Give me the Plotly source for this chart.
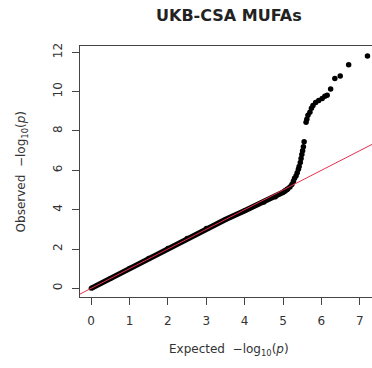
import plotly.graph_objects as go

# Dense body of the QQ curve
body_expected = [0.0, 0.5, 1.0, 1.5, 2.0, 2.5, 3.0, 3.5, 4.0, 4.5, 4.8, 5.0, 5.12]
body_observed = [0.0, 0.5, 1.02, 1.53, 2.04, 2.55, 3.05, 3.5, 3.95, 4.38, 4.65, 4.88, 5.05]

# Tail points
tail_expected = [5.05, 5.12, 5.18, 5.23, 5.27, 5.30, 5.34, 5.37, 5.40, 5.42, 5.45, 5.47, 5.49,
                 5.51, 5.53, 5.55, 5.60, 5.62, 5.65, 5.70, 5.74, 5.78, 5.85, 5.93, 6.02, 6.09,
                 6.15, 6.24, 6.35, 6.49, 6.71, 7.20]
tail_observed = [4.95, 5.05, 5.15, 5.28, 5.45, 5.60, 5.72, 5.88, 6.05, 6.20, 6.40, 6.60, 6.80,
                 7.00, 7.20, 7.45, 8.45, 8.60, 8.80, 8.95, 9.15, 9.30, 9.45, 9.55, 9.65, 9.77,
                 9.82, 10.13, 10.67, 10.79, 11.37, 11.81]

# Reference line y = x
ref_x = [-1, 9]
ref_y = [-1, 9]

x_ticks = [0, 1, 2, 3, 4, 5, 6, 7]
y_ticks = [0, 2, 4, 6, 8, 10, 12]

title_text = "UKB-CSA MUFAs"
x_title = "Expected  \u2212log<sub>10</sub>(<i>p</i>)"
y_title = "Observed  \u2212log<sub>10</sub>(<i>p</i>)"

fig = go.Figure()
fig.add_trace(go.Scatter(x=body_expected, y=body_observed, mode="lines+markers",
                         line=dict(color="black", width=5.5),
                         marker=dict(color="black", size=5), hoverinfo="skip"))
fig.add_trace(go.Scatter(x=tail_expected, y=tail_observed, mode="markers",
                         marker=dict(color="black", size=5.5), hoverinfo="skip"))
fig.add_trace(go.Scatter(x=ref_x, y=ref_y, mode="lines",
                         line=dict(color="#e8304a", width=1), hoverinfo="skip"))

axis_font = dict(family="DejaVu Sans", size=12, color="#333333")
fig.update_layout(
    width=372, height=368,
    margin=dict(l=80, r=0, t=46, b=71),
    paper_bgcolor="white", plot_bgcolor="white",
    showlegend=False,
    xaxis=dict(range=[-0.29, 7.318], tickvals=x_ticks, ticks="outside", ticklen=7,
               tickcolor="#444444", tickwidth=1, showgrid=False, zeroline=False,
               showline=True, mirror=True, linecolor="#444444", linewidth=1,
               tickfont=axis_font, ticklabelstandoff=6),
    yaxis=dict(range=[-0.44, 12.32], tickvals=y_ticks, ticks="outside", ticklen=7,
               tickcolor="#444444", tickwidth=1, showgrid=False, zeroline=False,
               showline=True, mirror=False, linecolor="#444444", linewidth=1,
               tickfont=axis_font, tickangle=-90, ticklabelstandoff=5),
    annotations=[
        dict(text="<b>" + title_text + "</b>", xref="paper", yref="paper", x=0.51, y=1.1235,
             xanchor="center", yanchor="middle", showarrow=False,
             font=dict(family="DejaVu Sans", size=16, color="#222222")),
        dict(text=x_title, xref="paper", yref="paper", x=0.51, y=-0.211,
             xanchor="center", yanchor="middle", showarrow=False,
             font=dict(family="DejaVu Sans", size=12, color="#333333")),
        dict(text=y_title, xref="paper", yref="paper", x=-0.199, y=0.5,
             xanchor="center", yanchor="middle", showarrow=False, textangle=-90,
             font=dict(family="DejaVu Sans", size=12, color="#333333")),
    ],
)
fig.write_html(
    "out.html",
    config={"displayModeBar": False},
    post_script="document.body.style.margin='0';document.body.style.overflow='hidden';",
)
